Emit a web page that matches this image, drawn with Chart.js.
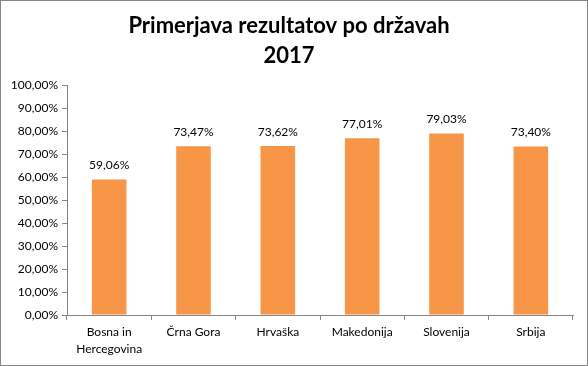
<!DOCTYPE html>
<html>
<head>
<meta charset="utf-8">
<script src="https://cdn.jsdelivr.net/npm/chart.js@4"></script>
<style>
  html, body { margin: 0; padding: 0; background: #fff; }
  #wrap { width: 588px; height: 366px; box-sizing: border-box; border: 1px solid #868686; }
</style>
</head>
<body>
<div id="wrap"><canvas id="resultsChart" width="586" height="364"></canvas></div>
<script>
const countries = [['Bosna in', 'Hercegovina'], 'Črna Gora', 'Hrvaška', 'Makedonija', 'Slovenija', 'Srbija'];
const results = [59.06, 73.47, 73.62, 77.01, 79.03, 73.40];

const pct = v => v.toFixed(2).replace('.', ',') + '%';

// labels above each bar
const barLabels = {
    id: 'barLabels',
    afterDatasetsDraw(chart) {
        const ctx = chart.ctx;
        const meta = chart.getDatasetMeta(0);
        ctx.save();
        ctx.font = '12px Lato, "Open Sans", sans-serif';
        ctx.fillStyle = '#000';
        ctx.textAlign = 'center';
        ctx.textBaseline = 'bottom';
        meta.data.forEach((bar, i) => {
            ctx.fillText(pct(results[i]), bar.x, bar.y - 8);
        });
        ctx.restore();
    }
};

let ctx = document.getElementById('resultsChart').getContext('2d');
new Chart(ctx, {
    type: 'bar',
    data: {
        labels: countries,
        datasets: [{
            label: 'Rezultat',
            data: results,
            backgroundColor: '#F79646',
            categoryPercentage: 1,
            barPercentage: 0.41
        }]
    },
    options: {
        responsive: false,
        animation: false,
        layout: { padding: { left: 4, right: 14, top: 0, bottom: 0 } },
        plugins: {
            legend: { display: false },
            tooltip: { enabled: false },
            title: {
                display: true,
                text: ['Primerjava rezultatov po državah', '2017'],
                color: '#000',
                font: { family: 'Lato, "Open Sans", sans-serif', size: 22, weight: 'bold', lineHeight: 1.35 },
                padding: { top: 10, bottom: 15 }
            }
        },
        scales: {
            x: {
                grid: { display: true, drawOnChartArea: false, offset: true, tickLength: 5, color: '#868686' },
                border: { color: '#868686' },
                ticks: { color: '#000', font: { family: 'Lato, "Open Sans", sans-serif', size: 12, lineHeight: 1.4 }, maxRotation: 0, padding: 4 },
                afterFit(scale) { scale.height = 50; }
            },
            y: {
                min: 0,
                max: 100,
                grid: { display: true, drawOnChartArea: false, tickLength: 5, color: '#868686' },
                border: { color: '#868686' },
                ticks: {
                    stepSize: 10,
                    color: '#000',
                    font: { family: 'Lato, "Open Sans", sans-serif', size: 12 },
                    padding: 4,
                    callback: v => pct(v)
                },
                afterFit(scale) { scale.width = 62; }
            }
        }
    },
    plugins: [barLabels]
});
</script>
</body>
</html>
